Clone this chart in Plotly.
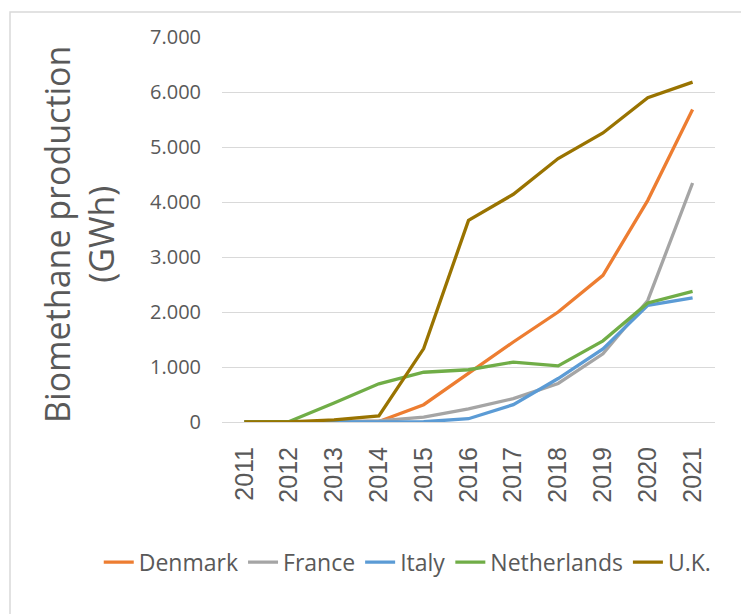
import plotly.graph_objects as go

# Biomethane production per country, GWh
years = [2011, 2012, 2013, 2014, 2015, 2016, 2017, 2018, 2019, 2020, 2021]
denmark = [0, 0, 0, 10, 315, 880, 1455, 2000, 2667, 4030, 5680]
france = [0, 0, 0, 20, 90, 240, 425, 700, 1240, 2210, 4345]
italy = [0, 0, 0, 0, 5, 60, 315, 790, 1330, 2120, 2255]
netherlands = [0, 10, 345, 695, 905, 950, 1090, 1020, 1475, 2165, 2375]
uk = [0, 0, 40, 110, 1335, 3665, 4140, 4790, 5255, 5895, 6180]

series = [
    ("Denmark", denmark, "#ED7D31"),
    ("France", france, "#A5A5A5"),
    ("Italy", italy, "#5B9BD5"),
    ("Netherlands", netherlands, "#70AD47"),
    ("U.K.", uk, "#997300"),
]

text_color = "#595959"
grid_color = "#D9D9D9"

fig = go.Figure()
for name, values, color in series:
    fig.add_trace(go.Scatter(
        x=years, y=values, name=name, mode="lines",
        line=dict(color=color, width=3.3),
    ))

fig.update_layout(
    width=741, height=614,
    margin=dict(l=222, r=26, t=37, b=192),
    paper_bgcolor="white", plot_bgcolor="white",
    separators=",.",
    showlegend=True,
    legend=dict(
        orientation="h", xref="paper", yref="paper",
        x=-0.25, xanchor="left", y=-0.364, yanchor="middle",
        font=dict(family="Open Sans", size=23, color=text_color),
        itemwidth=30, traceorder="normal",
    ),
    xaxis=dict(
        range=[2010.5, 2021.5], tickmode="array", tickvals=years,
        ticktext=[str(y) for y in years], tickangle=-90,
        tickfont=dict(family="Liberation Sans", size=25, color=text_color),
        showgrid=False, zeroline=False, showline=True,
        linecolor=grid_color, linewidth=1, ticks="",
        ticklabelstandoff=14,
    ),
    yaxis=dict(
        range=[0, 7000], dtick=1000, tickformat=",.0f",
        tickfont=dict(family="Open Sans", size=20, color=text_color),
        showgrid=True, gridcolor=grid_color, gridwidth=1,
        zeroline=False, showline=False, ticks="",
        ticklabelstandoff=20,
    ),
    annotations=[dict(
        text="Biomethane production<br>(GWh)",
        xref="paper", yref="paper", x=0, y=0.486,
        xanchor="center", yanchor="middle", xshift=-143,
        textangle=-90, showarrow=False,
        font=dict(family="Open Sans", size=34, color=text_color),
    )],
    shapes=[dict(
        type="rect", xref="paper", yref="paper",
        x0=-0.43, x1=1.2, y0=-0.7, y1=1.065,
        line=dict(color=grid_color, width=1.5), fillcolor="rgba(0,0,0,0)",
        layer="below",
    )],
)

fig.write_html("out.html")
